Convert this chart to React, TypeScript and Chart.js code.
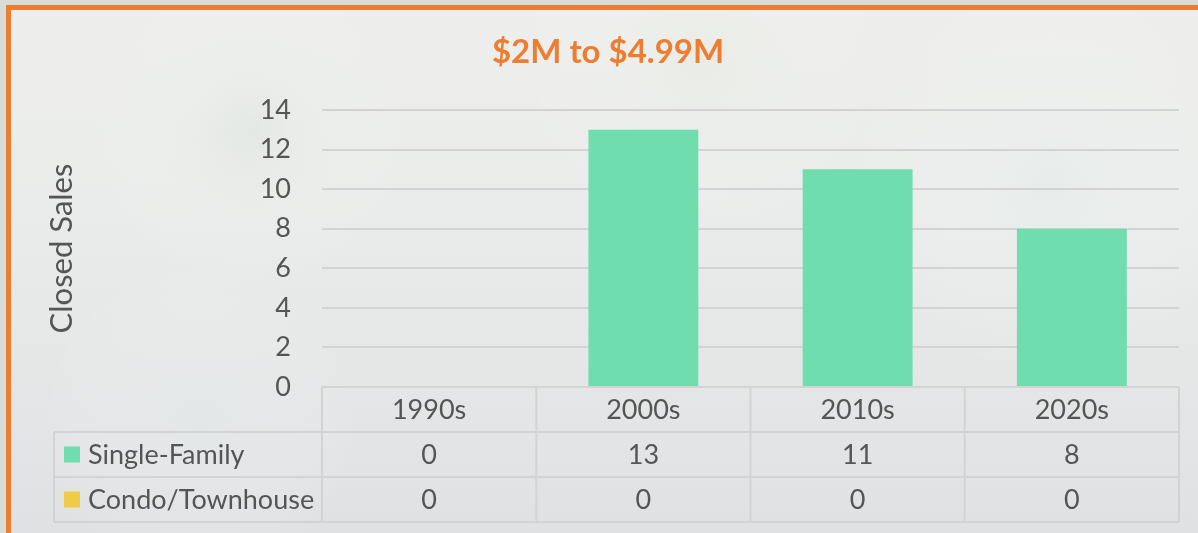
import React, { useEffect, useRef } from "react";
import { Chart, registerables } from "chart.js";
Chart.register(...registerables);

const decades = ["1990s", "2000s", "2010s", "2020s"];
const singleFamily = [0, 13, 11, 8];
const condoTownhouse = [0, 0, 0, 0];
const seriesNames = ["Single-Family", "Condo/Townhouse"];
const seriesColors = ["#6FDDAD", "#F0CB45"];
const chartTitle = "$2M to $4.99M";
const yAxisTitle = "Closed Sales";
const yMin = 0;
const yMax = 14;
const yStep = 2;

const FONT = "Lato, 'Open Sans', sans-serif";
const TEXT = "#555555";
const GRID = "#d3d3d3";

const W = 1198;
const H = 533;

const bgPlugin = {
  id: "bgPlugin",
  beforeDraw(chart: any) {
    const ctx = chart.ctx;
    ctx.save();
    const g = ctx.createLinearGradient(0, 0, 0, H);
    g.addColorStop(0, "#eeefec");
    g.addColorStop(0.45, "#e9ebea");
    g.addColorStop(1, "#e0e1e3");
    ctx.fillStyle = g;
    ctx.fillRect(0, 0, W, H);
    const blobs = [
      [250, 130, 160, "rgba(214,224,214,0.35)"],
      [700, 60, 180, "rgba(226,230,220,0.35)"],
      [1050, 180, 200, "rgba(226,236,236,0.4)"],
      [200, 420, 160, "rgba(226,234,234,0.35)"],
    ];
    for (const [bx, by, br, c] of blobs as any) {
      const rg = ctx.createRadialGradient(bx, by, 0, bx, by, br);
      rg.addColorStop(0, c);
      rg.addColorStop(1, "rgba(255,255,255,0)");
      ctx.fillStyle = rg;
      ctx.fillRect(bx - br, by - br, br * 2, br * 2);
    }
    ctx.fillStyle = "#d9ddd8";
    ctx.fillRect(0, 0, W, 5);
    ctx.fillRect(0, 0, 6, H);
    ctx.strokeStyle = "#ED7D31";
    ctx.lineWidth = 5;
    ctx.strokeRect(8.5, 7.5, W + 50, H + 50);
    ctx.restore();
  },
};

const tablePlugin = {
  id: "tablePlugin",
  afterDraw(chart: any) {
    const ctx = chart.ctx;
    const area = chart.chartArea;
    const xs = chart.scales.x;
    const labels: string[] = chart.data.labels;
    const n = labels.length;
    const colW = (area.right - area.left) / n;
    const rowH = 45;
    const top = area.bottom;
    const tableLeft = 54;
    ctx.save();

    // title
    ctx.fillStyle = "#ED7D31";
    ctx.font = `bold 33px ${FONT}`;
    ctx.textAlign = "center";
    ctx.textBaseline = "middle";
    ctx.fillText(chartTitle, 608, 52);

    // grid lines of table
    ctx.strokeStyle = GRID;
    ctx.lineWidth = 2;
    ctx.beginPath();
    for (let r = 1; r <= 3; r++) {
      const y = top + r * rowH;
      ctx.moveTo(tableLeft, y);
      ctx.lineTo(area.right, y);
    }
    ctx.moveTo(tableLeft, top + rowH);
    ctx.lineTo(tableLeft, top + 3 * rowH);
    for (let i = 0; i < n; i++) {
      const cx = xs.getPixelForTick(i);
      const lx = cx - colW / 2;
      ctx.moveTo(lx, top);
      ctx.lineTo(lx, top + 3 * rowH);
    }
    const rx = xs.getPixelForTick(n - 1) + colW / 2;
    ctx.moveTo(rx, top);
    ctx.lineTo(rx, top + 3 * rowH);
    ctx.stroke();

    // texts
    ctx.fillStyle = TEXT;
    ctx.font = `27px ${FONT}`;
    ctx.textAlign = "center";
    ctx.textBaseline = "middle";
    for (let i = 0; i < n; i++) {
      const cx = xs.getPixelForTick(i);
      ctx.fillText(labels[i], cx, top + rowH / 2 + 1);
      chart.data.datasets.forEach((ds: any, d: number) => {
        ctx.fillText(String(ds.data[i]), cx, top + rowH * (d + 1) + rowH / 2 + 1);
      });
    }
    chart.data.datasets.forEach((ds: any, d: number) => {
      const cy = top + rowH * (d + 1) + rowH / 2;
      ctx.fillStyle = ds.backgroundColor;
      ctx.fillRect(64, cy - 8, 16, 16);
      ctx.fillStyle = TEXT;
      ctx.textAlign = "left";
      ctx.fillText(ds.label, 88, cy + 1);
    });
    ctx.restore();
  },
};

export default function App() {
  const ref = useRef<HTMLCanvasElement | null>(null);
  useEffect(() => {
    document.body.style.margin = "0";
    const canvas = ref.current;
    if (!canvas) return;
    const chart = new Chart(canvas, {
      type: "bar",
      data: {
        labels: decades,
        datasets: [
          { label: seriesNames[0], data: singleFamily, backgroundColor: seriesColors[0] },
          { label: seriesNames[1], data: condoTownhouse, backgroundColor: seriesColors[1] },
        ],
      },
      options: {
        responsive: false,
        animation: false,
        devicePixelRatio: 1,
        layout: { padding: { top: 110, bottom: 146, left: 18, right: 19 } },
        datasets: { bar: { categoryPercentage: 1, barPercentage: 0.513 } } as any,
        plugins: {
          legend: { display: false },
          title: { display: false },
          tooltip: { enabled: false },
        },
        scales: {
          x: { display: false, stacked: true },
          y: {
            stacked: true,
            min: yMin,
            max: yMax,
            ticks: { stepSize: yStep, color: TEXT, font: { family: FONT, size: 27 }, padding: 31 },
            grid: { color: GRID, lineWidth: 2, drawTicks: false },
            border: { display: false },
            title: {
              display: true,
              text: yAxisTitle,
              color: TEXT,
              font: { family: FONT, size: 31 },
              padding: { top: 25, bottom: 0 },
            },
            afterFit: (s: any) => {
              s.width = 304;
            },
          },
        },
      },
      plugins: [bgPlugin, tablePlugin],
    });
    return () => chart.destroy();
  }, []);
  return (
    <div style={{ position: "fixed", left: 0, top: 0, width: W, height: H }}>
      <canvas ref={ref} width={W} height={H} style={{ display: "block" }} />
    </div>
  );
}
